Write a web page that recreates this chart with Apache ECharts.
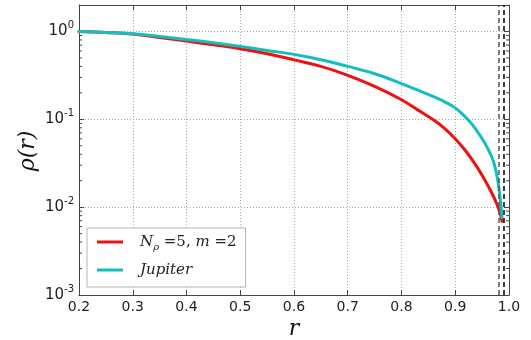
<!DOCTYPE html>
<html><head><meta charset="utf-8">
<script src="https://cdn.jsdelivr.net/npm/echarts@6/dist/echarts.min.js"></script>
<style>html,body{margin:0;padding:0;background:#fff}#c{width:531px;height:340px}</style>
</head><body><div id="c"></div>
<script>
// ---- data ----
const rRed   = [0.2,0.25,0.3,0.35,0.4,0.45,0.5,0.55,0.6,0.65,0.7,0.75,0.8,0.83,0.86,0.88,0.9,0.918,0.937,0.955,0.968,0.977,0.983,0.987];
const rhoRed = [1.0,0.975,0.935,0.855,0.776,0.705,0.636,0.557,0.475,0.40,0.316,0.237,0.167,0.128,0.098,0.079,0.060,0.0447,0.0309,0.0204,0.0145,0.011,0.0087,0.0069];
const rJup   = [0.2,0.25,0.3,0.35,0.4,0.45,0.5,0.55,0.6,0.65,0.7,0.75,0.8,0.845,0.875,0.9,0.923,0.937,0.955,0.968,0.974,0.979,0.983,0.987];
const rhoJup = [1.0,0.975,0.942,0.877,0.81,0.743,0.676,0.608,0.548,0.477,0.40,0.330,0.255,0.197,0.164,0.135,0.1,0.079,0.0537,0.0372,0.0288,0.0204,0.0135,0.0076];
const dashedLines = [0.98, 0.99];
const yDecades = [0.001,0.01,0.1,1];
const seriesNames = ['N_rho=5, m=2','Jupiter'];
const xRange = [0.2, 1.0];
const yRange = [0.001, 2];

const minorVals = [];
yDecades.forEach(d => { for (let k = 2; k <= 9; k++) { const v = d*k; if (v < yRange[1]) minorVals.push(v); } });

const chart = echarts.init(document.getElementById('c'), null, {renderer:'canvas'});
const axisCol = '#444';
const gridLine = {show:true, lineStyle:{color:'#a8a8a8', width:1, type:[1,2]}};
const pair = (xs, ys) => xs.map((x,i)=>[x, ys[i]]);

function yFmt(v){
  const l = Math.log10(v), e = Math.round(l);
  if (Math.abs(l-e) > 1e-6) return '';
  return '{b|10}{s|' + (e<0?'-':'') + Math.abs(e) + '}';
}

chart.setOption({
  animation:false,
  grid:{left:79, right:22, top:5, bottom:45, containLabel:false},
  xAxis:[{
    type:'value', min:xRange[0], max:xRange[1], interval:0.1,
    axisLine:{show:true, onZero:false, lineStyle:{color:axisCol, width:1}},
    axisTick:{show:true, inside:true, length:5, lineStyle:{color:axisCol}},
    axisLabel:{color:'#222', fontFamily:'DejaVu Sans', fontSize:14, margin:5,
      formatter:v=>v.toFixed(1)},
    splitLine:gridLine
  },{
    type:'value', position:'top', min:xRange[0], max:xRange[1], interval:0.1,
    axisLine:{show:true, onZero:false, lineStyle:{color:axisCol, width:1}},
    axisTick:{show:true, inside:true, length:5, lineStyle:{color:axisCol}},
    axisLabel:{show:false}, splitLine:{show:false}
  }],
  yAxis:[{
    type:'log', logBase:10, min:yRange[0], max:yRange[1],
    axisLine:{show:true, onZero:false, lineStyle:{color:axisCol, width:1}},
    axisTick:{show:true, inside:true, length:5, lineStyle:{color:axisCol}},
    axisLabel:{margin:5, formatter:yFmt, showMaxLabel:false,
      rich:{
        b:{fontFamily:'DejaVu Sans', fontSize:15, color:'#222', lineHeight:22},
        s:{fontFamily:'DejaVu Sans', fontSize:10, color:'#222', verticalAlign:'top', lineHeight:22}
      }},
    splitLine:gridLine
  },{
    type:'log', logBase:10, min:yRange[0], max:yRange[1], position:'right',
    axisLine:{show:true, onZero:false, lineStyle:{color:axisCol, width:1}},
    axisTick:{show:true, inside:true, length:5, lineStyle:{color:axisCol}},
    axisLabel:{show:false}, splitLine:{show:false}
  }],
  legend:{
    orient:'vertical', left:87, top:228, padding:[4,9,7,10], itemGap:8,
    icon:'rect', itemWidth:26, itemHeight:3, backgroundColor:'#fff',
    borderColor:'#b5b5b5', borderWidth:1, borderRadius:0,
    data:seriesNames,
    formatter: n => n === seriesNames[0]
      ? '{i|N}{sub|ρ}{r| =5, }{i|m}{r| =2}'
      : '{i|Jupiter}',
    textStyle:{ padding:[0,0,0,12], lineHeight:20,
      rich:{
        i:{fontFamily:'DejaVu Serif', fontStyle:'italic', fontSize:15, color:'#222', lineHeight:20},
        r:{fontFamily:'DejaVu Serif', fontSize:15, color:'#222', lineHeight:20},
        sub:{fontFamily:'DejaVu Serif', fontStyle:'italic', fontSize:10, color:'#222', lineHeight:20, verticalAlign:'bottom', padding:[6,0,0,0]}
      }}
  },
  series:[
    {name:seriesNames[0], type:'line', data:pair(rRed, rhoRed), showSymbol:false, symbol:'none',
     smooth:0.4, lineStyle:{color:'#ee1111', width:3, cap:'round'}, itemStyle:{color:'#ee1111'}, z:3,
     markLine:{silent:true, symbol:'none', label:{show:false}, animation:false,
       lineStyle:{type:[5,3], width:1.5, color:'#000'},
       data: dashedLines.map((v,i)=>({xAxis:v, lineStyle:{color: i===0?'#555':'#000', type:[5,3], width:1.5}}))}},
    {name:seriesNames[1], type:'line', data:pair(rJup, rhoJup), showSymbol:false, symbol:'none',
     smooth:0.4, lineStyle:{color:'#12bfc0', width:3, cap:'round'}, itemStyle:{color:'#12bfc0'}, z:4},
    {type:'custom', silent:true, data:minorVals.map(v=>[v]), clip:false, z:5,
     encode:{y:0},
     renderItem:(params, api)=>{
       const v = api.value(0);
       const pl = api.coord([xRange[0], v]);
       const pr = api.coord([xRange[1], v]);
       return {type:'group', children:[
         {type:'line', shape:{x1:pl[0], y1:pl[1], x2:pl[0]+3, y2:pl[1]}, style:{stroke:axisCol, lineWidth:1}},
         {type:'line', shape:{x1:pr[0], y1:pr[1], x2:pr[0]-3, y2:pr[1]}, style:{stroke:axisCol, lineWidth:1}}
       ]};
     }}
  ],
  graphic:[
    {type:'text', x:28, y:151, rotation:Math.PI/2,
     style:{text:'ρ(r)', font:'italic 22px "DejaVu Serif"', fill:'#111', textAlign:'center', textVerticalAlign:'middle'}},
    {type:'text', x:294, y:329,
     style:{text:'r', font:'italic 22px "DejaVu Serif"', fill:'#111', textAlign:'center', textVerticalAlign:'middle'}}
  ]
});
</script></body></html>
